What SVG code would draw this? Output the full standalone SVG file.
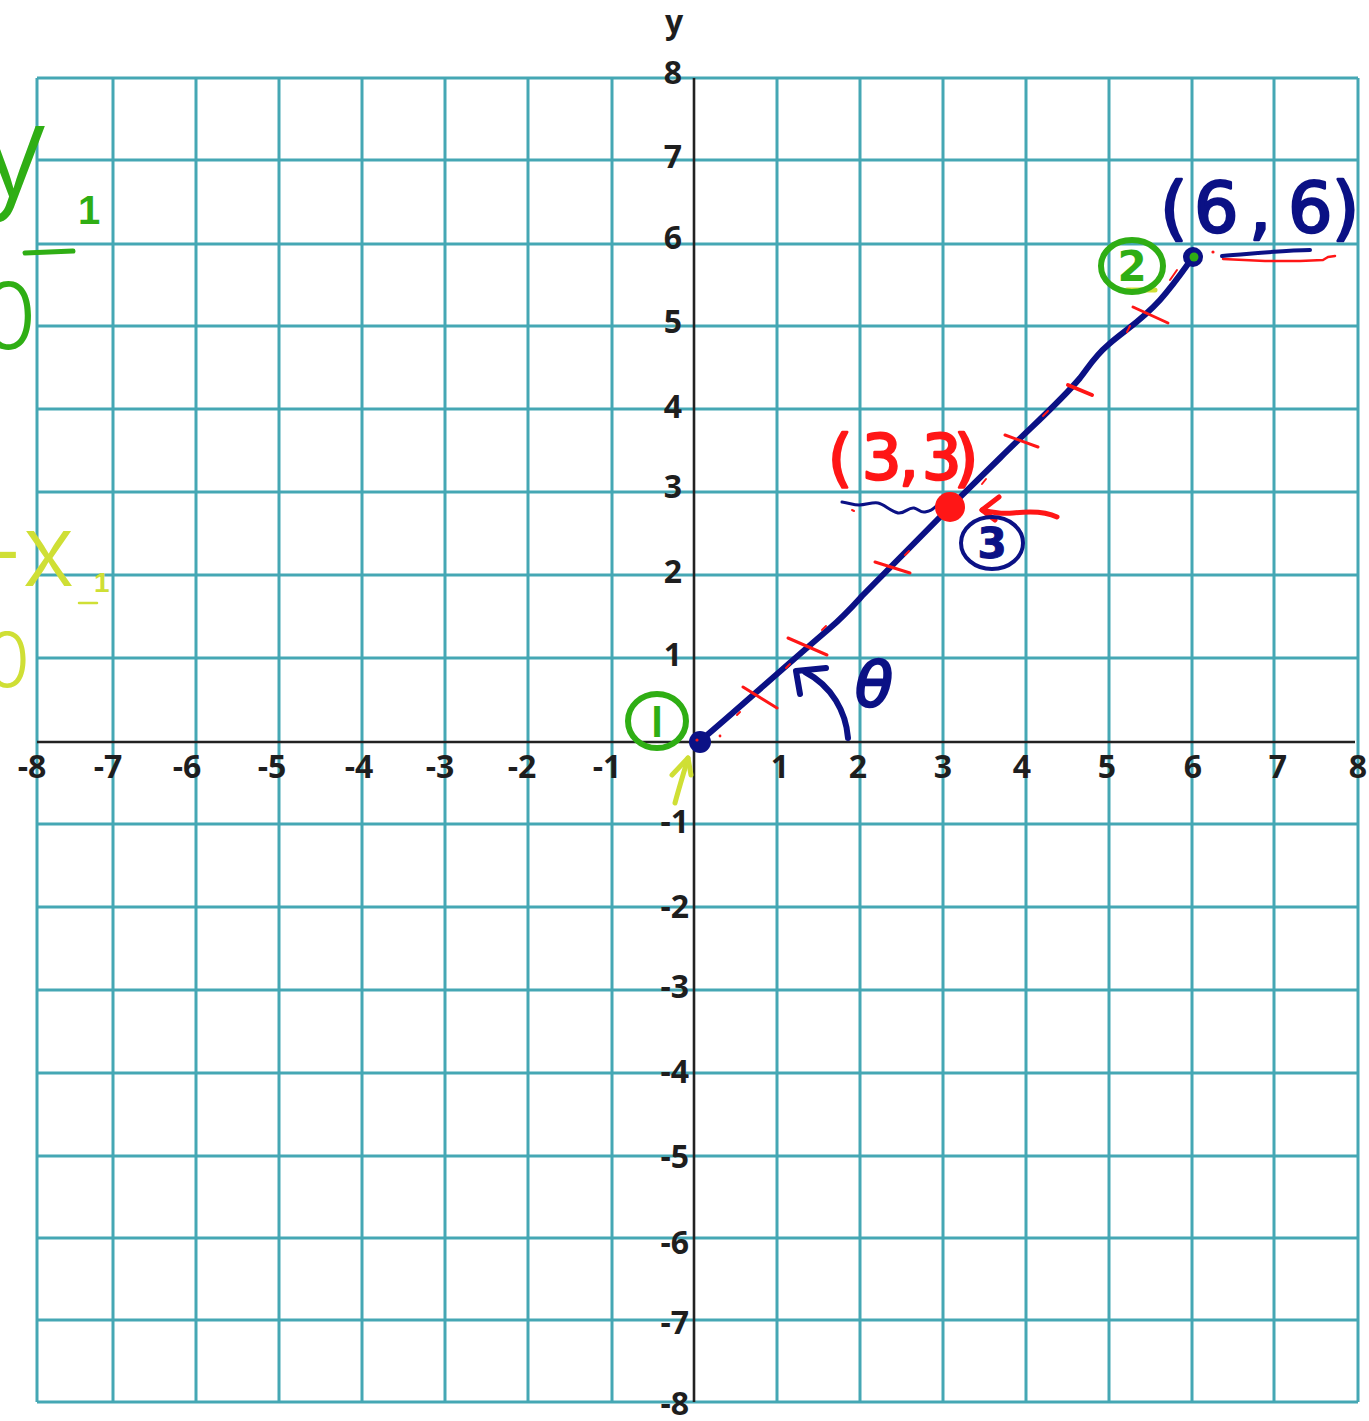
<svg xmlns="http://www.w3.org/2000/svg" width="1369" height="1421" viewBox="0 0 1369 1421">
<defs>
<style>
.grid line{stroke:#45a7b4;stroke-width:3}
.axis{stroke:#222;stroke-width:2.6}
.lbl{font-family:"Open Sans","Noto Sans",sans-serif;font-weight:700;font-size:32px;fill:#1e1e1e}
.lx{text-anchor:middle}
.ly{text-anchor:end}
.hand{font-family:"DejaVu Sans",sans-serif;stroke-width:2.5;stroke-linejoin:round}
.thin{font-family:Inter,"Lato","DejaVu Sans",sans-serif;font-weight:300}
.navy{fill:#0b1185;stroke:#0b1185}
.red{fill:#ff1616;stroke:#ff1616}
.green{fill:#2fae14}
.lime{fill:#cfdf35}
.sk{fill:none;stroke-linecap:round;stroke-linejoin:round}
</style>
</defs>
<rect width="1369" height="1421" fill="#fff"/>

<g id="grid" class="grid">
<line x1="37" y1="78" x2="37" y2="1402"/><line x1="113" y1="78" x2="113" y2="1402"/><line x1="196" y1="78" x2="196" y2="1402"/><line x1="279" y1="78" x2="279" y2="1402"/><line x1="362" y1="78" x2="362" y2="1402"/><line x1="445" y1="78" x2="445" y2="1402"/><line x1="528" y1="78" x2="528" y2="1402"/><line x1="612" y1="78" x2="612" y2="1402"/><line x1="777" y1="78" x2="777" y2="1402"/><line x1="860" y1="78" x2="860" y2="1402"/><line x1="943" y1="78" x2="943" y2="1402"/><line x1="1026" y1="78" x2="1026" y2="1402"/><line x1="1109" y1="78" x2="1109" y2="1402"/><line x1="1192" y1="78" x2="1192" y2="1402"/><line x1="1274" y1="78" x2="1274" y2="1402"/><line x1="1358" y1="78" x2="1358" y2="1402"/>
<line x1="37" y1="78" x2="1358" y2="78"/><line x1="37" y1="160" x2="1358" y2="160"/><line x1="37" y1="244" x2="1358" y2="244"/><line x1="37" y1="326" x2="1358" y2="326"/><line x1="37" y1="409" x2="1358" y2="409"/><line x1="37" y1="492" x2="1358" y2="492"/><line x1="37" y1="575" x2="1358" y2="575"/><line x1="37" y1="658" x2="1358" y2="658"/><line x1="37" y1="824" x2="1358" y2="824"/><line x1="37" y1="907" x2="1358" y2="907"/><line x1="37" y1="990" x2="1358" y2="990"/><line x1="37" y1="1073" x2="1358" y2="1073"/><line x1="37" y1="1156" x2="1358" y2="1156"/><line x1="37" y1="1238" x2="1358" y2="1238"/><line x1="37" y1="1320" x2="1358" y2="1320"/><line x1="37" y1="1402" x2="1358" y2="1402"/>
</g>

<g id="axes">
<line class="axis" x1="37" y1="742" x2="1355" y2="742"/>
<line class="axis" x1="694" y1="78" x2="694" y2="1402"/>
<text class="lbl" x="674" y="33" text-anchor="middle" font-weight="400" font-size="38">y</text>
</g>

<g id="x-labels" class="lbl lx">
<text x="32" y="778">-8</text><text x="108" y="778">-7</text><text x="187" y="778">-6</text><text x="272" y="778">-5</text><text x="359" y="778">-4</text><text x="440" y="778">-3</text><text x="522" y="778">-2</text><text x="607" y="778">-1</text>
<text x="780" y="778">1</text><text x="858" y="778">2</text><text x="943" y="778">3</text><text x="1022" y="778">4</text><text x="1107" y="778">5</text><text x="1193" y="778">6</text><text x="1278" y="778">7</text><text x="1358" y="778">8</text>
</g>

<g id="y-labels" class="lbl ly">
<text x="682" y="84">8</text><text x="682" y="168">7</text><text x="682" y="249">6</text><text x="682" y="333">5</text><text x="682" y="418">4</text><text x="682" y="498">3</text><text x="682" y="583">2</text><text x="682" y="666">1</text>
<text x="689" y="833">-1</text><text x="689" y="918">-2</text><text x="689" y="998">-3</text><text x="689" y="1083">-4</text><text x="689" y="1168">-5</text><text x="689" y="1254">-6</text><text x="689" y="1334">-7</text><text x="689" y="1415">-8</text>
</g>

<g id="connectors">
<path id="segment" class="sk" stroke="#0b1185" stroke-width="6" d="M700,741 C730,716 790,662 830,628 C845,615 852,607 862,596 L950,507 L1000,458 C1030,428 1060,402 1080,378 C1090,365 1095,356 1108,345 C1125,330 1140,322 1160,300 C1175,283 1185,268 1193,257"/>
<g id="ticks" class="sk" stroke="#ff1616" stroke-width="3">
<line x1="743" y1="687" x2="777" y2="708"/>
<line x1="788" y1="638" x2="827" y2="655"/>
<line x1="875" y1="562" x2="910" y2="573"/>
<line x1="1005" y1="435" x2="1038" y2="447"/>
<line x1="1068" y1="385" x2="1092" y2="395" stroke-width="4"/>
<line x1="1133" y1="307" x2="1168" y2="323"/>
<line x1="737" y1="715" x2="740" y2="712" stroke-width="2"/>
<line x1="786" y1="668" x2="790" y2="664" stroke-width="2"/>
<line x1="822" y1="630" x2="826" y2="626" stroke-width="2"/>
<line x1="905" y1="555" x2="909" y2="551" stroke-width="2"/>
<line x1="982" y1="484" x2="986" y2="479" stroke-width="2"/>
<line x1="1043" y1="416" x2="1048" y2="411" stroke-width="2"/>
<line x1="1127" y1="332" x2="1130" y2="326" stroke-width="2"/>
<line x1="1170" y1="280" x2="1177" y2="270" stroke-width="2"/>
<line x1="852" y1="510" x2="854" y2="511" stroke-width="2"/>
</g>
<g id="theta-arrow" class="sk" stroke="#0b1185" stroke-width="6">
<path d="M848,738 C846,712 832,686 805,672"/>
<path d="M800,694 L796,671 L826,668"/>
</g>
<g id="origin-arrow" class="sk" stroke="#cfdf35" stroke-width="5">
<path d="M675,803 C679,788 684,772 688,758"/>
<path d="M672,775 L688,758 L691,775"/>
</g>
<g id="red-arrow" class="sk" stroke="#ff1616" stroke-width="5">
<path d="M1057,517 C1045,511 1030,511 1013,513 C1003,514 990,512 982,510"/>
<path d="M999,497 L982,510 L995,520"/>
</g>
<path id="squiggle" class="sk" stroke="#0b1185" stroke-width="3" d="M842,502 C850,503 853,505 859,505 C866,505 872,502 878,503 C884,504 890,511 898,513 C905,514 908,507 914,508 C919,509 920,513 925,512 C930,511 932,510 934,508 C936,506 937,505 939,504"/>
<g id="underlines" class="sk">
<path stroke="#ff1616" stroke-width="2.5" d="M1223,259 L1265,261 L1300,261 L1323,260 L1328,257 L1335,256"/>
<path stroke="#0b1185" stroke-width="4" d="M1222,256 C1250,254 1285,250 1310,250"/>
<path stroke="#cfdf35" stroke-width="5" d="M1127,290 L1155,290"/>
</g>
</g>

<g id="P1">
<circle cx="700" cy="742" r="11" fill="#0b1185"/>
<circle cx="697" cy="740" r="1.6" fill="#ff1616"/>
<circle cx="720" cy="736" r="1.4" fill="#ff1616"/>
<ellipse cx="657" cy="721" rx="29" ry="27" fill="none" stroke="#2fae14" stroke-width="6"/>
<text class="green" x="657" y="737" font-size="42" text-anchor="middle" font-weight="700" font-family="Liberation Sans, sans-serif">l</text>
</g>

<g id="P2">
<circle cx="1193" cy="257" r="10" fill="#0b1185"/>
<circle cx="1194" cy="257" r="4.5" fill="#2fae14"/>
<circle cx="1213" cy="252" r="1.6" fill="#ff1616"/>
<ellipse cx="1132" cy="266" rx="31" ry="26" fill="none" stroke="#2fae14" stroke-width="6"/>
<text class="green" x="1132" y="281" font-size="42" text-anchor="middle" font-weight="700" font-family="DejaVu Sans, sans-serif">2</text>
<text class="hand navy" x="1160 1194 1249 1288 1332" y="232" font-size="70">(6,6)</text>
</g>

<g id="P3">
<circle cx="950" cy="507" r="15" fill="#ff1616"/>
<ellipse cx="992" cy="543" rx="31" ry="26" fill="none" stroke="#0b1185" stroke-width="4"/>
<text class="navy" x="992" y="558" font-size="42" text-anchor="middle" font-weight="700" font-family="DejaVu Sans, sans-serif">3</text>
<text class="hand red" x="828 862 899 922 954" y="479" font-size="62">(3,3)</text>
</g>

<g id="theta">
<text class="hand navy" x="855" y="706" font-size="62" font-style="italic" stroke-width="1.5">θ</text>
</g>

<g id="left-notes">
<text class="thin green" x="-22" y="196" font-size="128">y</text>
<text class="green" x="78" y="224" font-size="40" font-weight="700" font-family="Liberation Sans, sans-serif">1</text>
<line x1="25" y1="253" x2="73" y2="251" stroke="#2fae14" stroke-width="5" stroke-linecap="round"/>
<text class="thin green" x="-20" y="349" font-size="92">0</text>
<text class="thin lime" x="-22" y="586" font-size="100">-</text>
<text class="thin lime" x="22" y="586" font-size="100">x</text>
<text class="lime" x="94" y="592" font-size="28" font-weight="700" font-family="Liberation Sans, sans-serif">1</text>
<line x1="79" y1="603" x2="97" y2="603" stroke="#cfdf35" stroke-width="2.5" stroke-linecap="round"/>
<text class="thin lime" x="-16" y="687" font-size="75">0</text>
</g>
</svg>
